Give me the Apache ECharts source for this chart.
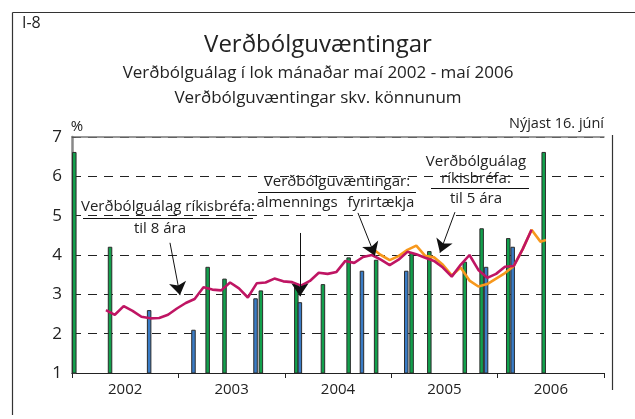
<!DOCTYPE html>
<html><head><meta charset="utf-8">
<script src="https://cdn.jsdelivr.net/npm/echarts@6/dist/echarts.min.js"></script>
<style>html,body{margin:0;padding:0;background:#fff}#c{width:635px;height:419px}</style>
</head><body><div id="c"></div>
<script>
// ---- data (x positions in months since 1 Jan 2002) ----
const years = ['2002', '2003', '2004', '2005', '2006'];
const yMin = 1, yMax = 7, yStep = 1;
const lineStart = 3.83;          // first month-end point (maí 2002)
// Verðbólguálag ríkisbréfa til 8 ára, monthly from maí 2002 to maí 2006
const bond8 = [2.60, 2.48, 2.70, 2.58, 2.43, 2.39, 2.40, 2.48, 2.64, 2.78,
               2.88, 3.18, 3.12, 3.10, 3.30, 3.15, 2.92, 3.28, 3.30, 3.40,
               3.33, 3.31, 3.22, 3.34, 3.55, 3.52, 3.57, 3.85, 3.80, 3.95,
               4.00, 3.88, 3.74, 3.88, 4.08, 4.02, 3.93, 3.85, 3.68, 3.45,
               3.75, 4.00, 3.62, 3.42, 3.52, 3.70, 3.72, 4.15, 4.64];
// Verðbólguálag ríkisbréfa til 5 ára, monthly from month index 30
const bond5Start = 30;
const bond5 = [4.17, 4.00, 3.87, 3.97, 4.13, 4.24, 3.98, 3.94, 3.75, 3.48,
               3.68, 3.35, 3.20, 3.26, 3.40, 3.54, 3.72, 4.15, 4.64, 4.34];
const latestMonth = 53.45;       // 16. júní 2006
const bond5Latest = 4.38;
// Verðbólguvæntingar fyrirtækja (green) and almennings (blue)
const greenMonths = [0.26, 4.29, 15.3, 17.2, 21.3, 25.3, 28.3, 31.2, 34.3, 38.3, 40.3, 44.3, 46.2, 49.2, 53.2];
const greenValues = [6.62, 4.21, 3.70, 3.40, 3.10, 3.28, 3.26, 3.94, 3.88, 4.06, 4.10, 3.83, 4.68, 4.43, 6.62];
const blueMonths = [8.7, 13.7, 20.7, 25.7, 32.7, 37.7, 46.7, 49.7];
const blueValues = [2.60, 2.10, 2.90, 2.80, 3.60, 3.60, 3.70, 4.21];
// annotation arrows [fromMonth, fromValue, toMonth, toValue]
const arrows = [[11.05, 4.31, 12.18, 2.98],
                [25.71, 4.56, 25.71, 2.95],
                [32.25, 5.07, 34.17, 3.98],
                [43.19, 5.09, 41.5, 4.06]];

// ---- chart ----
const FONT = '"Open Sans", "DejaVu Sans", sans-serif';
const chart = echarts.init(document.getElementById('c'), null, {renderer: 'canvas'});
const pairs = (xs, ys) => xs.map((x, i) => [x, ys[i]]);
const bond8Data = bond8.map((v, i) => [lineStart + i, v]);
const bond5Data = bond5.map((v, i) => [lineStart + bond5Start + i, v]);
bond5Data.push([latestMonth, bond5Latest]);

function txt(text, x, y, size, align) {
  return {type: 'text', silent: true, x: x, y: y, style: {text: text, fill: '#222',
    font: size + 'px ' + FONT, align: align || 'center', verticalAlign: 'middle'}};
}
function ln(x1, y1, x2, y2, w, c) {
  return {type: 'line', silent: true, shape: {x1: x1, y1: y1, x2: x2, y2: y2},
    style: {stroke: c || '#111', lineWidth: w || 1}};
}

chart.setOption({
  animation: false,
  backgroundColor: '#fff',
  grid: {left: 72, right: 31, top: 137, bottom: 46, show: false},
  xAxis: [
    {type: 'value', min: 0, max: 60, interval: 12, position: 'bottom',
     axisLine: {show: true, onZero: false, lineStyle: {color: '#222', width: 1}},
     axisTick: {show: true, inside: false, length: 5, lineStyle: {color: '#222'}},
     axisLabel: {show: false}, splitLine: {show: false}},
    {type: 'category', data: years, position: 'bottom', boundaryGap: true,
     axisLine: {show: false}, axisTick: {show: false},
     axisLabel: {show: true, fontSize: 15, color: '#222', fontFamily: FONT, margin: 9},
     splitLine: {show: false}},
    {type: 'value', min: 0, max: 60, position: 'top',
     axisLine: {show: true, lineStyle: {color: '#777', width: 1.5}},
     axisTick: {show: false}, axisLabel: {show: false}, splitLine: {show: false}}
  ],
  yAxis: [
    {type: 'value', min: yMin, max: yMax, interval: yStep,
     axisLine: {show: true, lineStyle: {color: '#555', width: 1}},
     axisTick: {show: true, inside: true, length: 4, lineStyle: {color: '#555'}},
     axisLabel: {fontSize: 17, color: '#222', fontFamily: FONT, margin: 10},
     splitLine: {show: true, lineStyle: {color: '#222', width: 1, type: [9, 7]}}},
    {type: 'value', min: yMin, max: yMax, interval: yStep, position: 'right',
     axisLine: {show: true, lineStyle: {color: '#888', width: 2.5}},
     axisTick: {show: false}, axisLabel: {show: false}, splitLine: {show: false}}
  ],
  series: [
    {type: 'bar', name: 'fyrirtækja', xAxisIndex: 0, yAxisIndex: 0,
     data: pairs(greenMonths, greenValues), barWidth: 4.5, barGap: '-100%', clip: true,
     itemStyle: {color: '#12a04c', borderColor: '#2b2b2b', borderWidth: 1}, z: 2},
    {type: 'bar', name: 'almennings', xAxisIndex: 0, yAxisIndex: 0,
     data: pairs(blueMonths, blueValues), barWidth: 4.5, barGap: '-100%', clip: true,
     itemStyle: {color: '#3a7cc6', borderColor: '#2b2b2b', borderWidth: 1}, z: 2},
    {type: 'line', name: '5 ára', xAxisIndex: 0, yAxisIndex: 0, data: bond5Data,
     showSymbol: false, symbol: 'none', lineStyle: {color: '#f7981d', width: 2.6}, z: 3},
    {type: 'line', name: '8 ára', xAxisIndex: 0, yAxisIndex: 0, data: bond8Data,
     showSymbol: false, symbol: 'none', lineStyle: {color: '#bf1563', width: 2.6}, z: 4,
     markLine: {silent: true, symbol: ['none', 'arrow'], symbolSize: [13, 13],
       label: {show: false}, emphasis: {disabled: true},
       lineStyle: {color: '#111', width: 1, type: 'solid'},
       data: arrows.map(a => [{coord: [a[0], a[1]]}, {coord: [a[2], a[3]]}])}}
  ],
  graphic: [
    ln(12.5, 12.5, 635, 12.5, 1.2, '#333'),
    ln(12.5, 12.5, 12.5, 415, 1.2, '#333'),
    ln(612.5, 135, 612.5, 390, 1.2, '#333'),
    txt('I-8', 22, 23, 16, 'left'),
    txt('Verðbólguvæntingar', 318, 45, 24),
    txt('Verðbólguálag í lok mánaðar maí 2002 - maí 2006', 318, 73, 17),
    txt('Verðbólguvæntingar skv. könnunum', 318, 98, 17),
    txt('%', 77, 127, 15),
    txt('Nýjast 16. júní', 604, 124, 14.5, 'right'),
    txt('Verðbólguálag ríkisbréfa:', 168, 207, 15),
    ln(83, 218.5, 253, 218.5),
    txt('til 8 ára', 160, 229, 15),
    txt('Verðbólguvæntingar:', 337, 182, 15),
    ln(258, 192.5, 416, 192.5),
    txt('almennings', 297, 203, 15),
    txt('fyrirtækja', 381, 203, 15),
    txt('Verðbólguálag', 476, 162, 15),
    txt('ríkisbréfa:', 476, 179, 15),
    ln(431, 188.5, 529, 188.5),
    txt('til 5 ára', 476, 199, 15)
  ]
});
</script></body></html>
